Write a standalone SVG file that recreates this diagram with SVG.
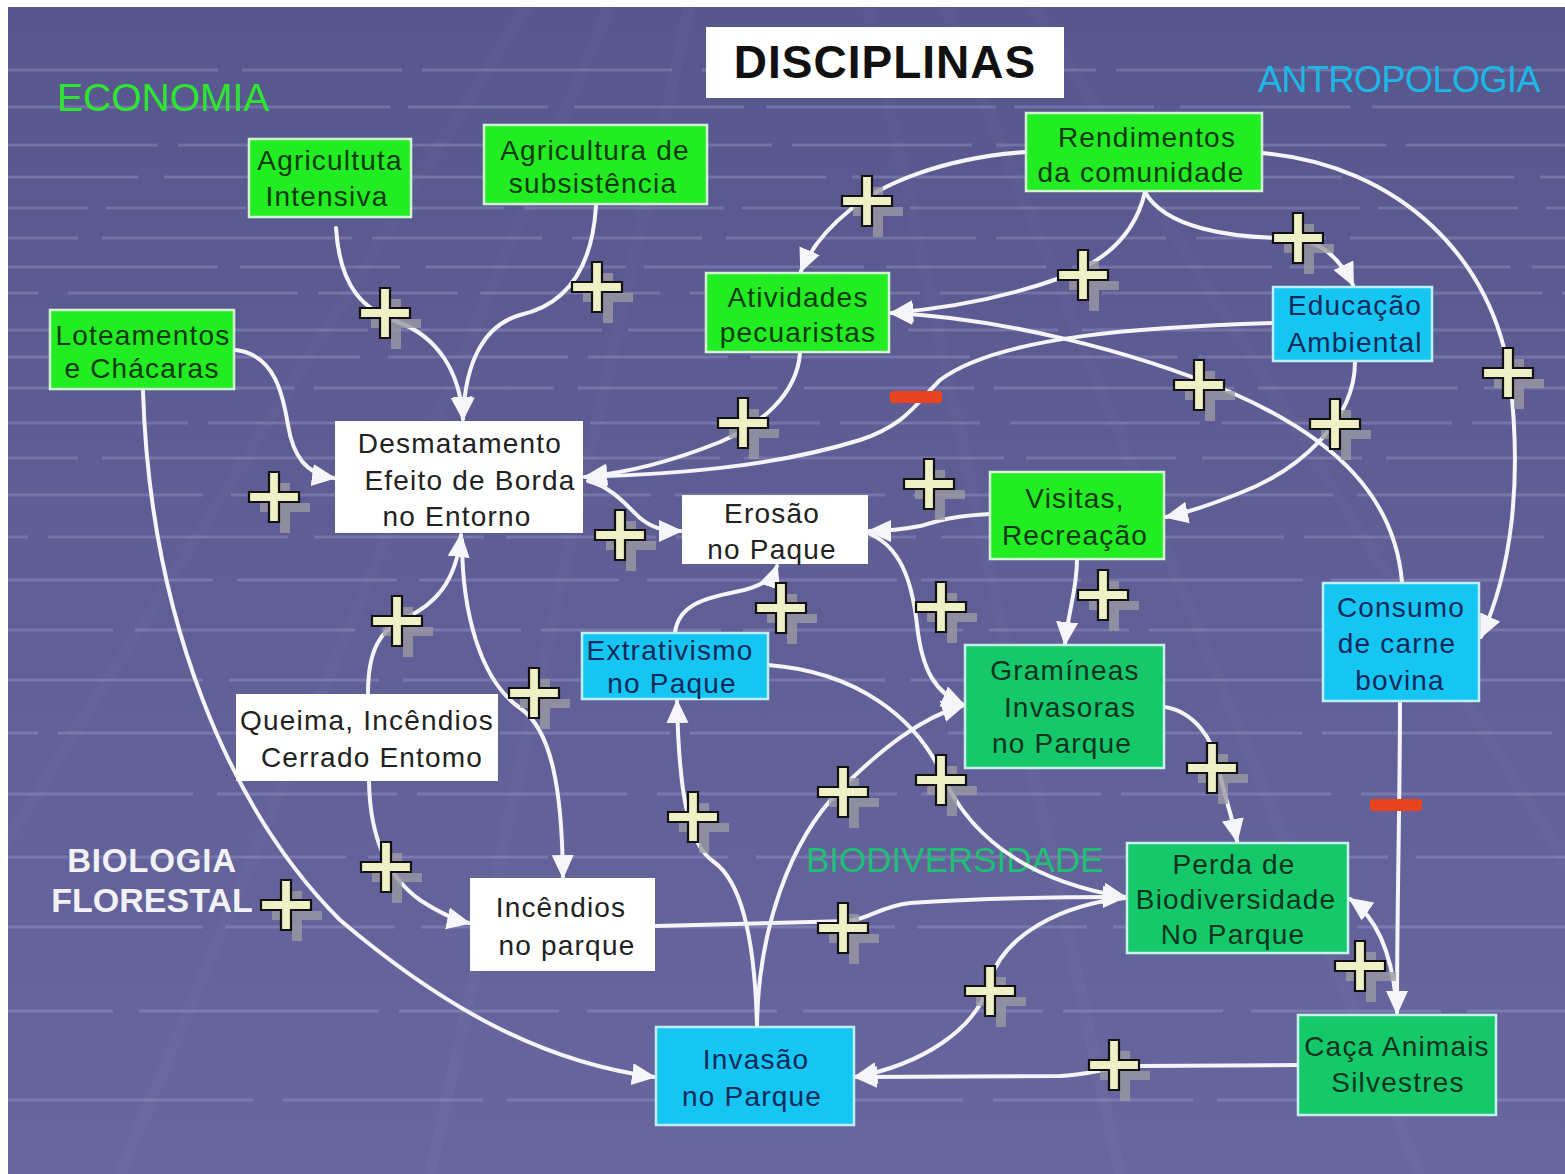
<svg xmlns="http://www.w3.org/2000/svg" xmlns:xlink="http://www.w3.org/1999/xlink" width="1565" height="1174" viewBox="0 0 1565 1174">
<defs>
<linearGradient id="bgGrad" x1="0" y1="0" x2="0" y2="1">
<stop offset="0" stop-color="#57568d"/>
<stop offset="1" stop-color="#67669e"/>
</linearGradient>
<marker id="ah" markerUnits="userSpaceOnUse" markerWidth="28" markerHeight="26" refX="22" refY="11" orient="auto">
<path d="M0,0 L24,11 L0,22 Z" fill="#f6f6fa"/>
</marker>
<g id="plus">
<path d="M6,-14 H16 V6 H36 V15 H16 V36 H6 V15 H-14 V6 H6 Z" fill="#9a9aa2" fill-opacity="0.8"/>
<path d="M-5,-25 H5 V-5 H25 V5 H5 V25 H-5 V5 H-25 V-5 H-5 Z" fill="#eef0c6" stroke="#111" stroke-width="2.2" stroke-linejoin="miter"/>
</g>
<g id="minus">
<rect x="-26" y="-6" width="52" height="12" rx="3" fill="#e8421e"/>
</g>
</defs>
<style>
.bgl{stroke:#bcbce6;stroke-opacity:0.26;stroke-width:3;fill:none}
.diag{stroke:#c8c8f0;stroke-opacity:0.035;stroke-width:12;fill:none}
.c{fill:none;stroke:#f5f5f9;stroke-width:4;stroke-linecap:round;marker-end:url(#ah)}
.g1{fill:#22ec22;stroke:#d4f7d4;stroke-width:2.5}
.g2{fill:#15c96b;stroke:#c6f4ea;stroke-width:2.5}
.cy{fill:#16c6f2;stroke:#bdefff;stroke-width:2.5}
.wh{fill:#ffffff}
.t{font-family:"Liberation Sans",Arial,sans-serif;font-size:28px;letter-spacing:1.2px;text-anchor:middle}
.tg{fill:#0f3a10}
.tg2{fill:#0b3320}
.tc{fill:#0f2a5a}
.tw{fill:#222222}
.lbl{font-family:"Liberation Sans",Arial,sans-serif}
</style>
<rect x="0" y="0" width="1565" height="1174" fill="#ffffff"/>
<g id="background">
<rect x="8" y="7" width="1557" height="1167" fill="url(#bgGrad)"/>
<g>
<path class="diag" d="M780,-400 L-200,1174"/>
<path class="diag" d="M780,-400 L120,1174"/>
<path class="diag" d="M780,-400 L430,1174"/>
<path class="diag" d="M780,-400 L1120,1174"/>
<path class="diag" d="M780,-400 L1420,1174"/>
<path class="diag" d="M780,-400 L1760,1174"/>
</g>
<g class="bgl">
<path d="M8,70 H1565" stroke-dasharray="210 24 160 20 250 30"/>
<path d="M8,107 H1565" stroke-dasharray="170 22 230 18 140 26" stroke-dashoffset="40"/>
<path d="M8,145 H1565" stroke-dasharray="240 20 180 24 120 30" stroke-dashoffset="90"/>
<path d="M8,177 H1565" stroke-dasharray="150 26 210 20 260 22" stroke-dashoffset="20"/>
<path d="M8,208 H1565" stroke-dasharray="200 18 140 28 230 20" stroke-dashoffset="120"/>
<path d="M8,238 H1565" stroke-dasharray="130 24 250 20 170 30" stroke-dashoffset="60"/>
<path d="M8,267 H1565" stroke-dasharray="220 22 160 26 200 18" stroke-dashoffset="10"/>
<path d="M8,293 H1565" stroke-dasharray="180 30 230 20 140 22" stroke-dashoffset="150"/>
<path d="M8,330 H1565" stroke-dasharray="260 20 150 24 210 26" stroke-dashoffset="70"/>
<path d="M8,357 H1565" stroke-dasharray="140 22 220 28 180 20" stroke-dashoffset="30"/>
<path d="M8,388 H1565" stroke-dasharray="200 26 170 20 240 24" stroke-dashoffset="110"/>
<path d="M8,423 H1565" stroke-dasharray="230 20 140 30 190 22" stroke-dashoffset="50"/>
<path d="M8,458 H1565" stroke-dasharray="160 24 260 22 150 26" stroke-dashoffset="90"/>
<path d="M8,495 H1565" stroke-dasharray="210 28 180 20 220 24" stroke-dashoffset="15"/>
<path d="M8,537 H1565" stroke-dasharray="150 20 240 26 170 22" stroke-dashoffset="130"/>
<path d="M8,580 H1565" stroke-dasharray="250 24 160 22 200 28" stroke-dashoffset="45"/>
<path d="M8,630 H1565" stroke-dasharray="180 22 220 26 140 20" stroke-dashoffset="75"/>
<path d="M8,680 H1565" stroke-dasharray="220 26 150 24 240 22" stroke-dashoffset="25"/>
<path d="M8,733 H1565" stroke-dasharray="170 20 230 28 160 24" stroke-dashoffset="140"/>
<path d="M8,794 H1565" stroke-dasharray="240 24 180 20 210 30" stroke-dashoffset="55"/>
<path d="M8,857 H1565" stroke-dasharray="160 28 250 22 180 20" stroke-dashoffset="100"/>
<path d="M8,927 H1565" stroke-dasharray="230 22 170 26 220 24" stroke-dashoffset="35"/>
<path d="M8,1011 H1565" stroke-dasharray="190 26 240 20 160 28" stroke-dashoffset="85"/>
<path d="M8,1100 H1565" stroke-dasharray="250 30 200 24 180 26" stroke-dashoffset="5"/>
</g>
</g>
<g id="labels">
<text class="lbl" x="57" y="111" font-size="39" fill="#2de62e">ECONOMIA</text>
<text class="lbl" x="1258" y="92" font-size="36" letter-spacing="-0.5" fill="#1cb7e6">ANTROPOLOGIA</text>
<text class="lbl" x="806" y="872" font-size="35" fill="#1fbf77">BIODIVERSIDADE</text>
<text class="lbl" x="152" y="872" font-size="33" font-weight="bold" letter-spacing="0.8" text-anchor="middle" fill="#f2f2f6">BIOLOGIA</text>
<text class="lbl" x="152" y="912" font-size="34" font-weight="bold" text-anchor="middle" fill="#f2f2f6">FLORESTAL</text>
</g>
<g id="title">
<rect x="706" y="27" width="358" height="71" fill="#ffffff"/>
<text class="lbl" x="885" y="78" font-size="46" font-weight="bold" letter-spacing="1" text-anchor="middle" fill="#111111">DISCIPLINAS</text>
</g>
<g id="connectors">
<path id="c1" class="c" d="M336,228 C340,290 365,310 398,322 C438,337 460,372 463,419"/>
<path id="c2" class="c" d="M596,206 C592,270 565,305 520,315 C485,325 465,360 463,419"/>
<path id="c3" class="c" d="M236,350 C275,355 283,395 288,425 C293,455 305,474 334,478"/>
<path id="c4" class="c" d="M143,391 C150,620 230,810 340,920 C440,1005 540,1062 654,1077"/>
<path id="c5" class="c" d="M1026,152 C940,158 880,185 850,210 C825,230 810,250 801,271"/>
<path id="c6" class="c" d="M1145,192 C1135,235 1105,262 1060,278 C1010,296 950,308 891,313"/>
<path id="c7" class="c" d="M1145,192 C1165,228 1230,238 1290,238 C1320,240 1340,258 1353,285"/>
<path id="c8" class="c" d="M1262,153 C1400,165 1495,260 1510,380 C1522,480 1512,570 1481,637"/>
<path id="c9" class="c" d="M1402,582 C1395,500 1340,440 1230,392 C1130,350 1000,318 891,313"/>
<path id="c10" class="c" d="M1273,323 C1150,327 1000,335 940,380 C915,405 905,425 860,440 C770,468 670,474 585,477"/>
<path id="c11" class="c" d="M800,353 C797,395 760,425 720,442 C670,462 630,472 585,477"/>
<path id="c12" class="c" d="M588,481 C612,487 626,505 640,518 C651,527 662,531 681,531"/>
<path id="c13" class="c" d="M990,514 C950,516 935,522 920,526 C905,529 890,531 869,531"/>
<path id="c14" class="c" d="M870,534 C900,547 912,580 917,625 C922,670 935,693 964,705"/>
<path id="c15" class="c" d="M675,633 C678,605 705,598 735,592 C760,587 772,580 777,566"/>
<path id="c16" class="c" d="M1355,362 C1355,420 1300,470 1240,493 C1210,505 1190,512 1166,517"/>
<path id="c17" class="c" d="M1077,560 C1077,590 1068,612 1065,644"/>
<path id="c18" class="c" d="M462,540 C462,612 480,680 520,708 C552,730 562,790 563,877"/>
<path id="c19" class="c" d="M368,693 C368,650 380,630 405,618 C435,605 456,582 461,535"/>
<path id="c20" class="c" d="M369,782 C370,835 385,875 420,900 C440,913 455,920 469,923"/>
<path id="c21" class="c" d="M757,1027 C755,940 742,882 714,862 C690,846 679,800 677,701"/>
<path id="c22" class="c" d="M757,1027 C758,930 790,840 840,790 C880,750 920,718 964,705"/>
<path id="c23" class="c" d="M768,665 C860,672 915,720 940,770 C965,830 1020,880 1125,897"/>
<path id="c24" class="c" d="M1165,707 C1195,712 1213,740 1218,765 C1225,800 1232,815 1237,841"/>
<path id="c25" class="c" d="M656,926 L850,921 C870,918 882,906 910,903 C980,898 1060,897 1125,897"/>
<path id="c26" class="c" d="M1125,898 C1060,905 1005,935 990,980 C978,1030 920,1065 855,1077"/>
<path id="c27" class="c" d="M1298,1065 L1140,1066 C1110,1066 1090,1075 1060,1076 L855,1077"/>
<path id="c28" class="c" d="M1396,1000 C1392,960 1380,920 1350,899"/>
<path id="c29" class="c" d="M1400,702 C1400,800 1397,900 1397,1013"/>
</g>
<g id="nodes">
<g id="agricultura-intensiva"><rect class="g1" x="249" y="139" width="162" height="78"/><text class="t tg" x="330" y="170">Agricultuta</text><text class="t tg" x="327" y="206">Intensiva</text></g>
<g id="agricultura-subsistencia"><rect class="g1" x="484" y="125" width="223" height="79"/><text class="t tg" x="595" y="160">Agricultura de</text><text class="t tg" x="593" y="193">subsistência</text></g>
<g id="loteamentos"><rect class="g1" x="50" y="310" width="184" height="79"/><text class="t tg" x="143" y="345">Loteamentos</text><text class="t tg" x="142" y="378">e Chácaras</text></g>
<g id="rendimentos"><rect class="g1" x="1026" y="113" width="236" height="78"/><text class="t tg" x="1147" y="147">Rendimentos</text><text class="t tg" x="1141" y="182">da comunidade</text></g>
<g id="atividades"><rect class="g1" x="706" y="273" width="183" height="79"/><text class="t tg" x="798" y="307">Atividades</text><text class="t tg" x="798" y="342">pecuaristas</text></g>
<g id="educacao"><rect class="cy" x="1273" y="287" width="159" height="74"/><text class="t tc" x="1355" y="315">Educação</text><text class="t tc" x="1355" y="352">Ambiental</text></g>
<g id="desmatamento"><rect class="wh" x="335" y="421" width="248" height="112"/><text class="t tw" x="460" y="453">Desmatamento</text><text class="t tw" x="470" y="490">Efeito de Borda</text><text class="t tw" x="457" y="526">no Entorno</text></g>
<g id="erosao"><rect class="wh" x="682" y="495" width="186" height="69"/><text class="t tw" x="772" y="523">Erosão</text><text class="t tw" x="772" y="559">no Paque</text></g>
<g id="visitas"><rect class="g1" x="990" y="472" width="174" height="87"/><text class="t tg" x="1075" y="508">Visitas,</text><text class="t tg" x="1075" y="545">Recreação</text></g>
<g id="extrativismo"><rect class="cy" x="582" y="633" width="186" height="66"/><text class="t tc" x="670" y="660">Extrativismo</text><text class="t tc" x="672" y="693">no Paque</text></g>
<g id="gramineas"><rect class="g2" x="965" y="645" width="199" height="123"/><text class="t tg2" x="1065" y="680">Gramíneas</text><text class="t tg2" x="1070" y="717">Invasoras</text><text class="t tg2" x="1062" y="753">no Parque</text></g>
<g id="consumo"><rect class="cy" x="1323" y="583" width="156" height="118"/><text class="t tc" x="1401" y="617">Consumo</text><text class="t tc" x="1397" y="653">de carne</text><text class="t tc" x="1400" y="690">bovina</text></g>
<g id="queima"><rect class="wh" x="236" y="694" width="262" height="87"/><text class="t tw" x="367" y="730">Queima, Incêndios</text><text class="t tw" x="372" y="767">Cerrado Entomo</text></g>
<g id="incendios"><rect class="wh" x="470" y="878" width="185" height="93"/><text class="t tw" x="561" y="917">Incêndios</text><text class="t tw" x="567" y="955">no parque</text></g>
<g id="perda"><rect class="g2" x="1127" y="843" width="221" height="110"/><text class="t tg2" x="1234" y="874">Perda de</text><text class="t tg2" x="1236" y="909">Biodiversidade</text><text class="t tg2" x="1233" y="944">No Parque</text></g>
<g id="caca"><rect class="g2" x="1298" y="1015" width="198" height="100"/><text class="t tg2" x="1397" y="1056">Caça Animais</text><text class="t tg2" x="1398" y="1092">Silvestres</text></g>
<g id="invasao"><rect class="cy" x="656" y="1027" width="198" height="98"/><text class="t tc" x="756" y="1069">Invasão</text><text class="t tc" x="752" y="1106">no Parque</text></g>
</g>
<g id="signs">
<use xlink:href="#plus" href="#plus" x="867" y="201"/>
<use xlink:href="#plus" href="#plus" x="385" y="313"/>
<use xlink:href="#plus" href="#plus" x="597" y="287"/>
<use xlink:href="#plus" href="#plus" x="1083" y="275"/>
<use xlink:href="#plus" href="#plus" x="1298" y="238"/>
<use xlink:href="#plus" href="#plus" x="1508" y="373"/>
<use xlink:href="#plus" href="#plus" x="743" y="423"/>
<use xlink:href="#plus" href="#plus" x="1199" y="385"/>
<use xlink:href="#plus" href="#plus" x="1335" y="424"/>
<use xlink:href="#plus" href="#plus" x="274" y="497"/>
<use xlink:href="#plus" href="#plus" x="620" y="535"/>
<use xlink:href="#plus" href="#plus" x="929" y="484"/>
<use xlink:href="#plus" href="#plus" x="781" y="608"/>
<use xlink:href="#plus" href="#plus" x="941" y="607"/>
<use xlink:href="#plus" href="#plus" x="1103" y="595"/>
<use xlink:href="#plus" href="#plus" x="397" y="621"/>
<use xlink:href="#plus" href="#plus" x="534" y="693"/>
<use xlink:href="#plus" href="#plus" x="693" y="817"/>
<use xlink:href="#plus" href="#plus" x="843" y="792"/>
<use xlink:href="#plus" href="#plus" x="941" y="780"/>
<use xlink:href="#plus" href="#plus" x="1212" y="768"/>
<use xlink:href="#plus" href="#plus" x="386" y="867"/>
<use xlink:href="#plus" href="#plus" x="286" y="905"/>
<use xlink:href="#plus" href="#plus" x="843" y="928"/>
<use xlink:href="#plus" href="#plus" x="990" y="991"/>
<use xlink:href="#plus" href="#plus" x="1360" y="966"/>
<use xlink:href="#plus" href="#plus" x="1114" y="1065"/>
<use xlink:href="#minus" href="#minus" x="916" y="397"/>
<use xlink:href="#minus" href="#minus" x="1396" y="805"/>
</g>
</svg>
